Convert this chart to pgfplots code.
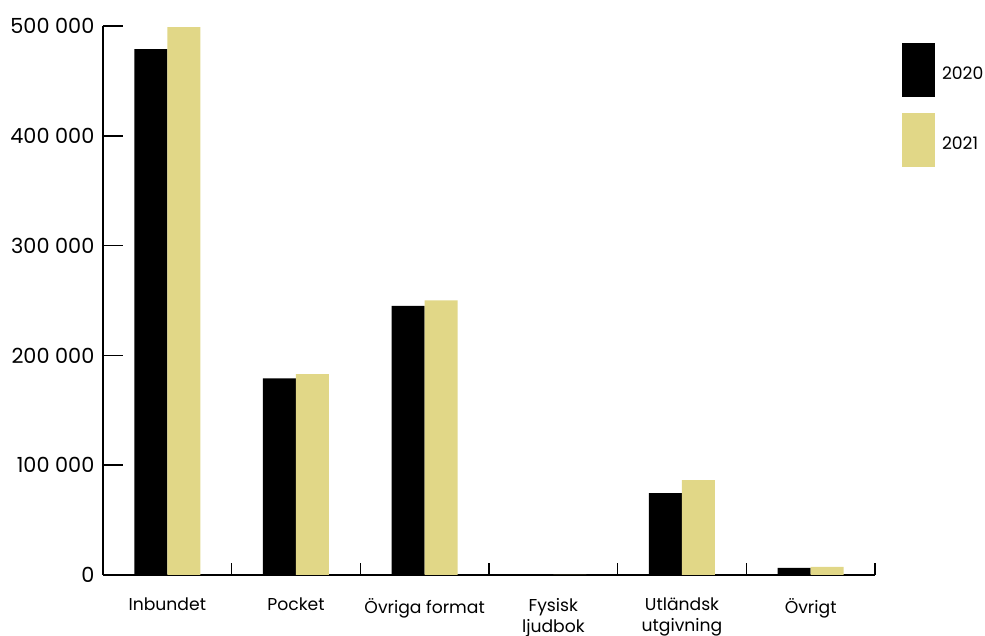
\documentclass[border=0pt]{standalone}
\usepackage{pgfplots}
\pgfplotsset{compat=1.18}
\usepackage{fontspec}
\setmainfont{Poppins}
\definecolor{gold}{HTML}{E1D787}
\begin{document}
\begin{tikzpicture}
\useasboundingbox (-51.5pt,-30.5pt) rectangle (441pt,287.5pt);
\begin{axis}[
  at={(0,0)}, anchor=south west,
  scale only axis,
  width=386pt, height=274.5pt,
  xmin=-0.5, xmax=5.5,
  ymin=0, ymax=500000,
  axis x line=bottom, axis y line=left,
  axis line style={-, line width=1pt},
  ybar=0pt, bar width=16.5pt,
  tick align=inside,
  xtick={0,1,2,3,4,5},
  xticklabels={Inbundet, Pocket, Övriga format, {Fysisk\\ljudbok}, {Utländsk\\utgivning}, Övrigt},
  major x tick style={draw=none},
  minor xtick={-0.5,0.5,1.5,2.5,3.5,4.5,5.5},
  minor tick length=6pt,
  minor x tick style={line width=0.8pt, black},
  xticklabel style={font=\fontsize{8.6}{10.5}\selectfont, align=center, anchor=north, yshift=-8pt},
  ytick={0,100000,200000,300000,400000,500000},
  yticklabels={0,100 000,200 000,300 000,400 000,500 000},
  yticklabel style={font=\fontsize{10.4}{12}\selectfont, xshift=-0.8pt},
  major tick length=10pt,
  major y tick style={line width=0.8pt, black},
  scaled y ticks=false,
  legend cell align=left,
  legend style={draw=none, fill=none, inner sep=0pt, outer sep=0pt,
    at={(1.035,0.969)}, anchor=north west, row sep=8pt, column sep=1.5pt,
    font=\fontsize{8.6}{10}\selectfont},
  legend image code/.code={\fill[#1] (0pt,-11.25pt) rectangle (16.5pt,15.75pt);},
]
\addplot[fill=black, draw=none] coordinates {(0,479000) (1,179000) (2,245000) (3,0) (4,74500) (5,6500)};
\addplot[fill=gold, draw=none] coordinates {(0,499000) (1,183000) (2,250000) (3,0) (4,86500) (5,7300)};
\legend{2020,2021}
\end{axis}
\end{tikzpicture}
\end{document}
